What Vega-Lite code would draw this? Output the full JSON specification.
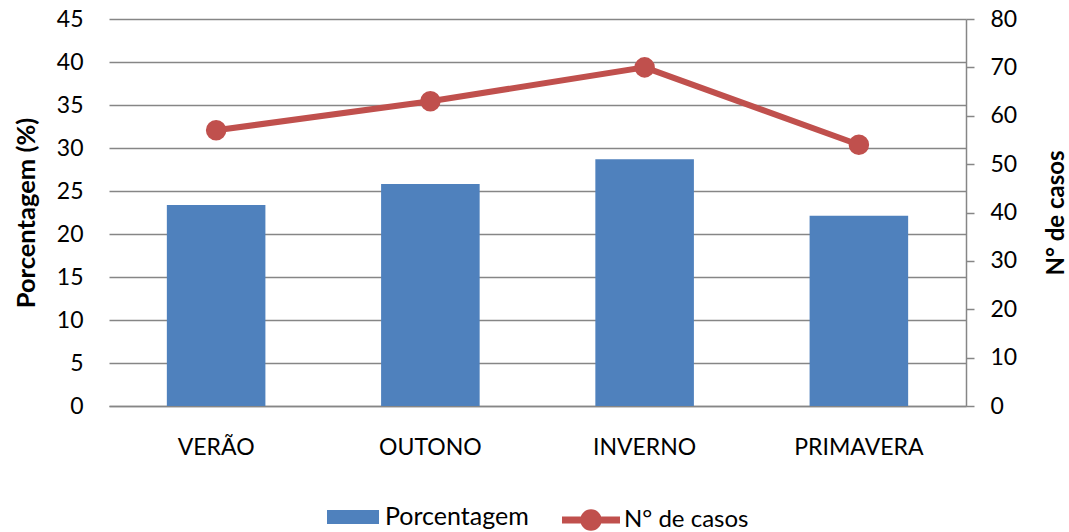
{
  "$schema": "https://vega.github.io/schema/vega-lite/v6.json",
  "width": 857,
  "height": 387,
  "autosize": {"type": "none"},
  "padding": {"left": 109, "top": 19, "right": 103, "bottom": 126},
  "background": "white",
  "config": {
    "view": {"stroke": null},
    "font": "Lato",
    "axis": {"labelFont": "Lato", "titleFont": "Lato", "labelColor": "#000000", "titleColor": "#000000"},
    "legend": {
      "layout": {"bottom": {"anchor": "middle", "direction": "horizontal", "margin": 33}}
    }
  },
  "data": {
    "values": [
      {"estacao": "VERÃO", "serie": "Porcentagem", "valor": 23.36},
      {"estacao": "OUTONO", "serie": "Porcentagem", "valor": 25.82},
      {"estacao": "INVERNO", "serie": "Porcentagem", "valor": 28.69},
      {"estacao": "PRIMAVERA", "serie": "Porcentagem", "valor": 22.13},
      {"estacao": "VERÃO", "serie": "N° de casos", "valor": 57},
      {"estacao": "OUTONO", "serie": "N° de casos", "valor": 63},
      {"estacao": "INVERNO", "serie": "N° de casos", "valor": 70},
      {"estacao": "PRIMAVERA", "serie": "N° de casos", "valor": 54}
    ]
  },
  "layer": [
    {
      "transform": [{"filter": "datum.serie === 'Porcentagem'"}],
      "mark": {"type": "bar"},
      "encoding": {
        "x": {
          "field": "estacao",
          "type": "nominal",
          "sort": ["VERÃO", "OUTONO", "INVERNO", "PRIMAVERA"],
          "scale": {"paddingInner": 0.54, "paddingOuter": 0.27},
          "axis": {
            "title": null,
            "labelAngle": 0,
            "labelFontSize": 23,
            "labelPadding": 30,
            "ticks": false,
            "domainColor": "#868686",
            "domainWidth": 1.5
          }
        },
        "y": {
          "field": "valor",
          "type": "quantitative",
          "scale": {"domain": [0, 45]},
          "axis": {
            "title": "Porcentagem (%)",
            "titleFontSize": 25.5,
            "titleFontWeight": "bold",
            "titlePadding": 17,
            "values": [0, 5, 10, 15, 20, 25, 30, 35, 40, 45],
            "labelFontSize": 23,
            "labelPadding": 26,
            "ticks": false,
            "domain": false,
            "grid": true,
            "gridColor": "#868686",
            "gridWidth": 1.5
          }
        },
        "fill": {
          "field": "serie",
          "type": "nominal",
          "scale": {"domain": ["Porcentagem"], "range": ["#4F81BD"]},
          "legend": {
            "title": null,
            "orient": "bottom",
            "direction": "horizontal",
            "offset": 32,
            "labelFontSize": 25,
            "labelFont": "Lato",
            "labelColor": "#000000",
            "labelOffset": 6,
            "symbolType": "M-1,-0.27H1V0.27H-1Z",
            "symbolSize": 2704,
            "symbolStrokeWidth": 0,
            "symbolOpacity": 1
          }
        }
      }
    },
    {
      "transform": [{"filter": "datum.serie === 'N° de casos'"}],
      "mark": {"type": "line", "strokeWidth": 6, "point": {"filled": true, "size": 420, "fill": "#C0504D", "stroke": "#C0504D", "strokeWidth": 0}},
      "encoding": {
        "x": {
          "field": "estacao",
          "type": "nominal",
          "sort": ["VERÃO", "OUTONO", "INVERNO", "PRIMAVERA"]
        },
        "y": {
          "field": "valor",
          "type": "quantitative",
          "scale": {"domain": [0, 80]},
          "axis": {
            "orient": "right",
            "title": "N° de casos",
            "titleFontSize": 24,
            "titleFontWeight": "bold",
            "titleAngle": 270,
            "titlePadding": 52,
            "values": [0, 10, 20, 30, 40, 50, 60, 70, 80],
            "labelFontSize": 23,
            "labelPadding": 16,
            "tickSize": 8,
            "tickColor": "#868686",
            "tickWidth": 1.5,
            "domainColor": "#868686",
            "domainWidth": 1.5,
            "grid": false
          }
        },
        "stroke": {
          "field": "serie",
          "type": "nominal",
          "scale": {"domain": ["N° de casos"], "range": ["#C0504D"]},
          "legend": {
            "title": null,
            "orient": "bottom",
            "direction": "horizontal",
            "offset": 32,
            "labelFontSize": 24,
            "labelFont": "Lato",
            "labelColor": "#000000",
            "labelOffset": 4,
            "symbolType": "M-1,-0.12H1V0.12H-1Z M0.37,0A0.37,0.37 0 1,1 -0.37,0A0.37,0.37 0 1,1 0.37,0Z",
            "symbolSize": 3364,
            "symbolFillColor": "#C0504D",
            "symbolStrokeWidth": 0,
            "symbolOpacity": 1
          }
        }
      }
    }
  ],
  "resolve": {"scale": {"y": "independent"}}
}
